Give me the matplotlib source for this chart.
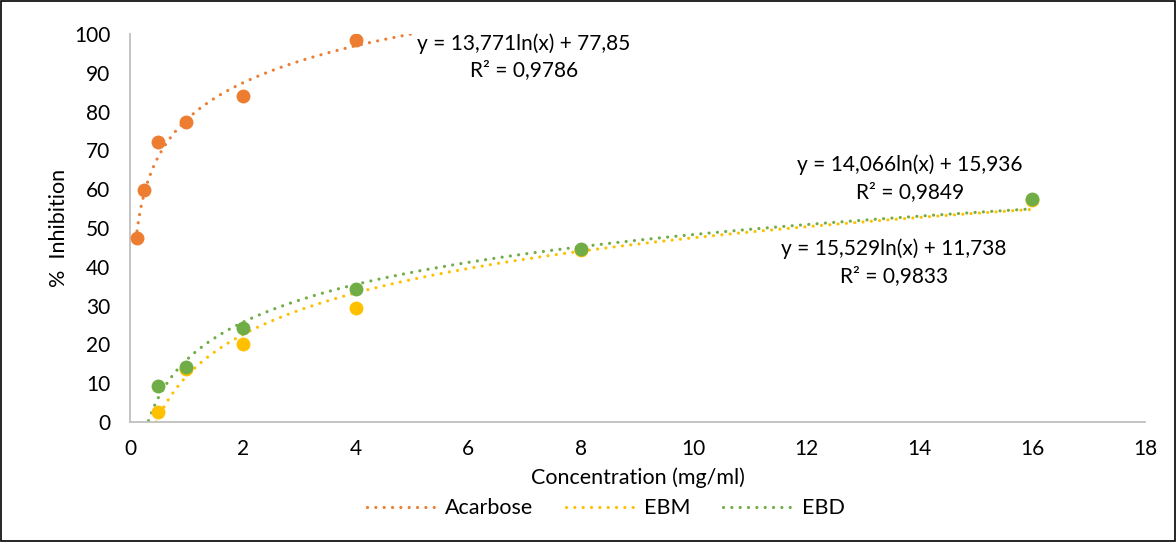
import numpy as np
import matplotlib.pyplot as plt
from matplotlib.lines import Line2D
from matplotlib.patches import Rectangle

plt.rcParams['font.family'] = ['Lato', 'DejaVu Sans']

# data
conc_acarbose = [0.125, 0.25, 0.5, 1, 2, 4]
inh_acarbose = [47.3, 59.8, 72.2, 77.3, 84.0, 98.5]
conc_ext = [0.5, 1, 2, 4, 8, 16]
inh_ebm = [2.5, 13.6, 20.1, 29.4, 44.3, 57.2]
inh_ebd = [9.4, 14.3, 24.1, 34.2, 44.5, 57.5]

# log trendlines as printed on the chart: (a, b, R2, x from, x to)
fit_acarbose = (13.771, 77.85, '0,9786', 0.125, 5.0)
fit_ebm = (15.529, 11.738, '0,9833', 0.47, 16)
fit_ebd = (14.066, 15.936, '0,9849', 0.33, 16)

c_orange = '#ED7D31'
c_yellow = '#FFC000'
c_green = '#70AD47'

fig = plt.figure(figsize=(11.76, 5.42), dpi=100)
ax = fig.add_axes([0.1105, 0.2214, 0.8631, 0.7159])

dots = (0, (0.01, 2.6))

def trend(fit, color):
    a, b, r2, x0, x1 = fit
    xs = np.linspace(x0, x1, 400)
    ax.plot(xs, a * np.log(xs) + b, color=color, lw=2.3, linestyle=dots,
            dash_capstyle='round', zorder=2)

trend(fit_acarbose, c_orange)
trend(fit_ebm, c_yellow)
trend(fit_ebd, c_green)

ax.scatter(conc_acarbose, inh_acarbose, s=100, color=c_orange, zorder=3, linewidths=0)
ax.scatter(conc_ext, inh_ebm, s=100, color=c_yellow, zorder=3, linewidths=0)
ax.scatter(conc_ext, inh_ebd, s=100, color=c_green, zorder=4, linewidths=0)

ax.set_xlim(0, 18)
ax.set_ylim(0, 100)
ax.set_xticks(range(0, 19, 2))
ax.set_yticks(range(0, 101, 10))
ax.tick_params(length=0, labelsize=15)
ax.tick_params(axis='x', pad=12)
ax.tick_params(axis='y', pad=14)
for s in ['top', 'right']:
    ax.spines[s].set_visible(False)
for s in ['left', 'bottom']:
    ax.spines[s].set_color('#BFBFBF')
    ax.spines[s].set_linewidth(1.3)

ax.set_xlabel('Concentration (mg/ml)', fontsize=15.5, labelpad=6)
ax.set_ylabel('%  Inhibition', fontsize=15.5, labelpad=4)

def eq_text(fit, x, y):
    a, b, r2 = fit[0], fit[1], fit[2]
    sa = f'{a:.3f}'.rstrip('0').replace('.', ',')
    sb = f'{b:.3f}'.rstrip('0').replace('.', ',')
    ax.text(x, y, f'y = {sa}ln(x) + {sb}\nR² = {r2}', ha='center', va='center',
            fontsize=15, linespacing=1.42, zorder=5)

eq_text(fit_acarbose, 6.99, 94.1)
eq_text(fit_ebd, 13.83, 62.8)
eq_text(fit_ebm, 13.55, 41.1)

handles = [Line2D([], [], color=c, lw=2.3, linestyle=dots, dash_capstyle='round')
           for c in (c_orange, c_yellow, c_green)]
fig.legend(handles, ['Acarbose', 'EBM', 'EBD'], loc='center', bbox_to_anchor=(0.515, 0.062),
           ncol=3, frameon=False, fontsize=15.5, handlelength=3.3, columnspacing=1.5,
           handletextpad=0.35)

fig.patches.append(Rectangle((0.001, 0.001), 0.998, 0.997, transform=fig.transFigure,
                             fill=False, edgecolor='black', lw=1.2))

fig.savefig('out.png', dpi=100)
